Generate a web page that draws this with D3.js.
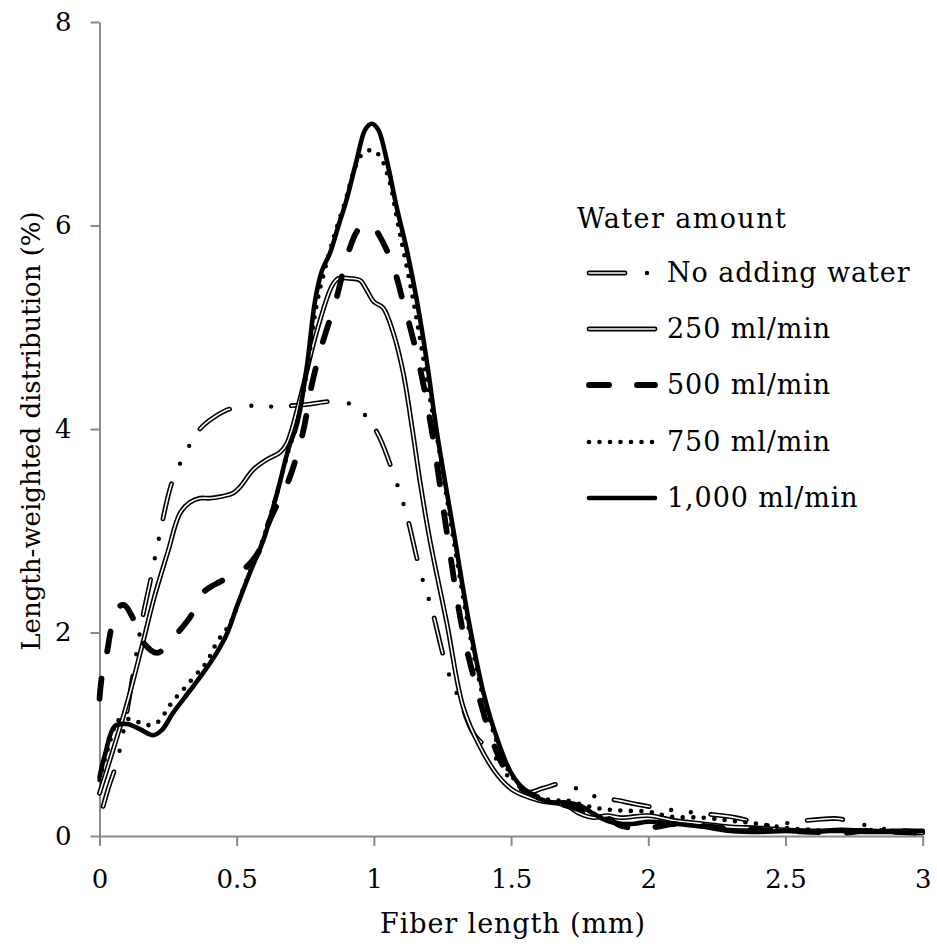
<!DOCTYPE html>
<html>
<head>
<meta charset="utf-8">
<script src="https://cdn.jsdelivr.net/npm/d3@7"></script>
<style>
  html, body { margin: 0; padding: 0; background: #fff; }
  svg { display: block; }
  text { font-family: "DejaVu Serif", serif; fill: #000; }
</style>
</head>
<body>
<svg id="chart" width="937" height="949"></svg>
<script>
// Axis ticks
const xTicks = [0, 0.5, 1, 1.5, 2, 2.5, 3];
const xTickLabels = ["0", "0.5", "1", "1.5", "2", "2.5", "3"];
const yTicks = [0, 2, 4, 6, 8];
const yTickLabels = ["0", "2", "4", "6", "8"];

const xTitle = "Fiber length (mm)";
const yTitle = "Length-weighted distribution (%)";
const legendTitle = "Water amount";
const seriesNames = ["No adding water", "250 ml/min", "500 ml/min", "750 ml/min", "1,000 ml/min"];

// Length-weighted distribution (%) against fiber length (mm), one array per water amount
const noWater = [
  [0, 0.16], [0.03, 0.45], [0.064, 0.73], [0.08, 0.93], [0.1, 1.22], [0.12, 1.55],
  [0.155, 2.12], [0.184, 2.49], [0.213, 2.88], [0.261, 3.45], [0.29, 3.64], [0.326, 3.83],
  [0.366, 4.0], [0.42, 4.12], [0.479, 4.2], [0.56, 4.23], [0.63, 4.22], [0.75, 4.24],
  [0.85, 4.27], [0.92, 4.24], [0.98, 4.1], [1.02, 3.92], [1.07, 3.57], [1.117, 3.18],
  [1.168, 2.61], [1.212, 2.22], [1.266, 1.65], [1.321, 1.28], [1.36, 1.02], [1.434, 0.8],
  [1.5, 0.55], [1.56, 0.43], [1.616, 0.47], [1.696, 0.52], [1.75, 0.45], [1.817, 0.38],
  [1.89, 0.35], [1.96, 0.31], [2.1, 0.25], [2.2, 0.22], [2.32, 0.18], [2.45, 0.1],
  [2.53, 0.14], [2.61, 0.16], [2.69, 0.17], [2.83, 0.08], [2.9, 0.06], [3.0, 0.04]
];
const water250 = [
  [0, 0.42], [0.05, 0.85], [0.1, 1.3], [0.158, 1.9], [0.2, 2.35], [0.25, 2.8], [0.293, 3.17],
  [0.33, 3.28], [0.366, 3.32], [0.403, 3.32], [0.45, 3.34], [0.487, 3.37], [0.512, 3.43],
  [0.56, 3.6], [0.61, 3.7], [0.658, 3.77], [0.683, 3.86], [0.73, 4.29], [0.79, 4.94],
  [0.846, 5.4], [0.87, 5.48], [0.91, 5.48], [0.95, 5.46], [0.975, 5.36], [1.0, 5.25],
  [1.034, 5.19], [1.071, 4.94], [1.107, 4.55], [1.14, 4.0], [1.17, 3.45], [1.204, 2.91],
  [1.266, 2.09], [1.325, 1.27], [1.387, 0.875], [1.45, 0.6], [1.507, 0.45], [1.6, 0.35],
  [1.7, 0.3], [1.75, 0.22], [1.8, 0.18], [1.85, 0.2], [1.9, 0.18], [2.0, 0.2], [2.1, 0.15],
  [2.2, 0.12], [2.3, 0.09], [2.4, 0.08], [2.5, 0.06], [2.6, 0.05], [2.7, 0.05], [2.8, 0.04],
  [2.9, 0.04], [3.0, 0.03]
];
const water500 = [
  [0, 1.35], [0.01, 1.6], [0.027, 1.8], [0.044, 2.05], [0.07, 2.25], [0.09, 2.27],
  [0.122, 2.14], [0.16, 1.9], [0.21, 1.8], [0.25, 1.88], [0.286, 2.0], [0.33, 2.15],
  [0.377, 2.39], [0.44, 2.5], [0.515, 2.6], [0.575, 2.77], [0.62, 3.1], [0.69, 3.5],
  [0.74, 3.95], [0.775, 4.45], [0.81, 4.82], [0.86, 5.25], [0.905, 5.72], [0.94, 5.95],
  [0.97, 6.02], [1.0, 5.98], [1.02, 5.9], [1.058, 5.69], [1.083, 5.49], [1.107, 5.24],
  [1.132, 5.0], [1.168, 4.6], [1.21, 4.0], [1.265, 3.0], [1.325, 2.0], [1.38, 1.4],
  [1.43, 0.95], [1.48, 0.65], [1.55, 0.45], [1.6, 0.38], [1.7, 0.3], [1.8, 0.22],
  [1.85, 0.18], [1.9, 0.1], [2.0, 0.08], [2.1, 0.12], [2.2, 0.1], [2.3, 0.07], [2.4, 0.06],
  [2.5, 0.05], [2.6, 0.04], [2.7, 0.03], [2.8, 0.05], [2.9, 0.04], [3.0, 0.03]
];
const water750 = [
  [0, 0.55], [0.03, 0.85], [0.075, 1.15], [0.14, 1.12], [0.177, 1.09], [0.213, 1.12],
  [0.239, 1.21], [0.263, 1.31], [0.312, 1.46], [0.366, 1.63], [0.391, 1.71], [0.427, 1.9],
  [0.476, 2.09], [0.52, 2.4], [0.56, 2.68], [0.6, 2.95], [0.65, 3.4], [0.69, 3.8],
  [0.72, 4.05], [0.755, 4.55], [0.79, 5.2], [0.81, 5.45], [0.85, 5.85], [0.9, 6.28],
  [0.924, 6.51], [0.957, 6.7], [0.993, 6.74], [1.022, 6.68], [1.058, 6.42], [1.083, 6.08],
  [1.107, 5.76], [1.143, 5.27], [1.181, 4.68], [1.205, 4.29], [1.225, 4.0], [1.285, 3.0],
  [1.345, 2.05], [1.395, 1.4], [1.445, 0.95], [1.495, 0.62], [1.55, 0.45], [1.6, 0.38],
  [1.66, 0.35], [1.7, 0.35], [1.8, 0.28], [1.9, 0.25], [2.0, 0.24], [2.08, 0.19],
  [2.2, 0.18], [2.3, 0.15], [2.4, 0.12], [2.5, 0.08], [2.6, 0.06], [2.7, 0.05], [2.8, 0.06],
  [2.9, 0.05], [3.0, 0.05]
];
const water1000 = [
  [0, 0.58], [0.02, 0.8], [0.056, 1.08], [0.1, 1.1], [0.147, 1.05], [0.195, 0.99],
  [0.227, 1.04], [0.268, 1.21], [0.33, 1.43], [0.385, 1.63], [0.427, 1.8], [0.465, 1.99],
  [0.5, 2.25], [0.55, 2.6], [0.6, 2.93], [0.65, 3.4], [0.69, 3.82], [0.72, 4.05],
  [0.755, 4.6], [0.785, 5.25], [0.81, 5.55], [0.84, 5.73], [0.87, 5.99], [0.9, 6.25],
  [0.937, 6.64], [0.968, 6.94], [0.992, 7.0], [1.016, 6.94], [1.047, 6.64], [1.083, 6.18],
  [1.12, 5.76], [1.156, 5.27], [1.192, 4.68], [1.23, 3.96], [1.29, 3.0], [1.35, 2.05],
  [1.4, 1.4], [1.45, 0.95], [1.5, 0.62], [1.55, 0.45], [1.6, 0.37], [1.65, 0.33],
  [1.7, 0.33], [1.75, 0.3], [1.8, 0.22], [1.85, 0.15], [1.9, 0.12], [1.95, 0.12],
  [2.0, 0.14], [2.1, 0.12], [2.2, 0.09], [2.3, 0.05], [2.4, 0.04], [2.5, 0.05], [2.6, 0.04],
  [2.7, 0.06], [2.8, 0.05], [2.9, 0.05], [3.0, 0.05]
];

const seriesData = [noWater, water250, water500, water750, water1000];
const seriesStyles = ["dashDotDouble", "double", "dash", "dot", "solid"];

const svg = d3.select("#chart");
const axisColor = "#8a8a8a";

const x = d3.scaleLinear().domain([0, 3]).range([99.5, 922.7]);
const y = d3.scaleLinear().domain([0, 8]).range([836, 22]);

// Long dash + two dots pattern (period 98 px)
const DD_PERIOD = 98;

// Stroke recipes for each line style; phase shifts the dash-dot pattern along the path
function drawStyled(g, pathD, style, phase = 0) {
  const p = (w, extra) => {
    const el = g.append("path").attr("d", pathD).attr("fill", "none")
      .attr("stroke", "#000").attr("stroke-width", w)
      .attr("stroke-linecap", "round").attr("stroke-linejoin", "round");
    if (extra) extra(el);
    return el;
  };
  if (style === "solid") {
    p(4.6);
  } else if (style === "dot") {
    p(4.6, el => el.attr("stroke-dasharray", "0 10.5"));
  } else if (style === "dash") {
    p(5.8, el => el.attr("stroke-dasharray", "20 28"));
  } else if (style === "double") {
    p(4.8);
    p(1.6, el => el.attr("stroke", "#fff"));
  } else if (style === "dashDotDouble") {
    p(4.8, el => el.attr("stroke-dasharray", "36 62").attr("stroke-dashoffset", phase));
    p(1.6, el => el.attr("stroke", "#fff").attr("stroke-dasharray", "36 62").attr("stroke-dashoffset", phase));
    p(4.4, el => el.attr("stroke-dasharray", "0 20 0 78").attr("stroke-dashoffset", phase + 40));
  }
}

// Axes
const xAxis = svg.append("g").attr("transform", `translate(0,${y(0)})`)
  .call(d3.axisBottom(x).tickValues(xTicks).tickFormat((d, i) => xTickLabels[i])
    .tickSize(10).tickSizeOuter(0).tickPadding(24));
const yAxis = svg.append("g").attr("transform", `translate(${x(0)},0)`)
  .call(d3.axisLeft(y).tickValues(yTicks).tickFormat((d, i) => yTickLabels[i])
    .tickSize(9).tickSizeOuter(0).tickPadding(19));

[xAxis, yAxis].forEach(a => {
  a.select(".domain").attr("stroke", axisColor).attr("stroke-width", 2);
  a.selectAll(".tick line").attr("stroke", axisColor).attr("stroke-width", 2);
  a.selectAll(".tick text").attr("fill", "#000")
    .style("font-family", '"DejaVu Serif", serif').style("font-size", "26px");
});

// Axis titles
svg.append("text").attr("x", 513).attr("y", 933).attr("text-anchor", "middle")
  .style("font-size", "27px").style("letter-spacing", "0.9px").text(xTitle);
svg.append("text").attr("transform", "translate(40,431) rotate(-90)")
  .attr("text-anchor", "middle").style("font-size", "26px").text(yTitle);

// Series lines
const line = d3.line().x(d => x(d[0])).y(d => y(d[1])).curve(d3.curveCatmullRom.alpha(0.5));
const plot = svg.append("g");

// Start the dash-dot pattern of the first series with a dash at x = 0.366 mm
function patternPhase(data, xStart) {
  const k = data.findIndex(d => d[0] >= xStart);
  const tmp = plot.append("path").attr("d", line(data.slice(0, k + 1)));
  const len = tmp.node().getTotalLength();
  tmp.remove();
  return -(len % DD_PERIOD);
}

seriesData.forEach((data, i) => {
  const phase = seriesStyles[i] === "dashDotDouble" ? patternPhase(data, 0.366) : 0;
  drawStyled(plot.append("g"), line(data), seriesStyles[i], phase);
});

// Legend
const legend = svg.append("g");
legend.append("text").attr("x", 577).attr("y", 228)
  .style("font-size", "27px").style("letter-spacing", "1.4px").text(legendTitle);
const rowY = [273, 329, 385, 442, 498];
seriesNames.forEach((name, i) => {
  const g = legend.append("g");
  const sample = d3.line()([[589, rowY[i]], [655, rowY[i]]]);
  drawStyled(g, sample, seriesStyles[i]);
  g.append("text").attr("x", 667).attr("y", rowY[i] + 9)
    .style("font-size", "27px").style("letter-spacing", "0.9px").text(name);
});
</script>
</body>
</html>
